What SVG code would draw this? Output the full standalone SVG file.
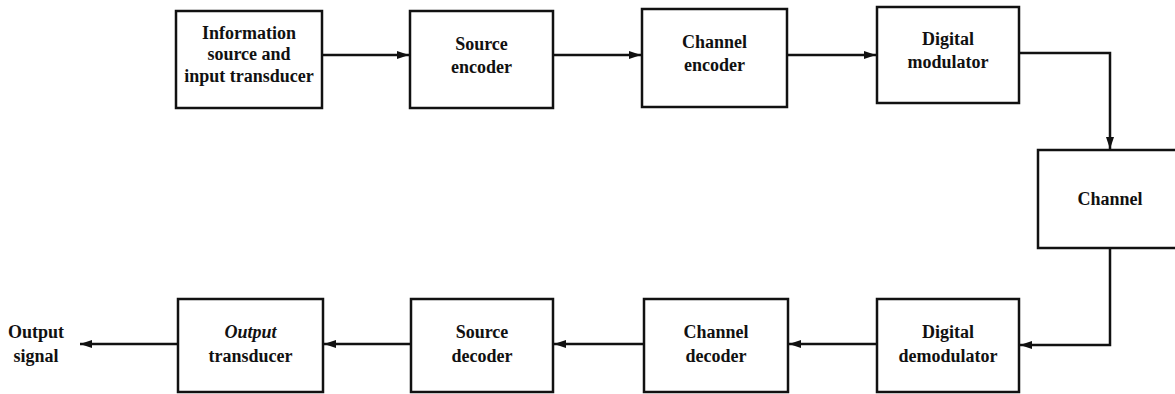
<svg xmlns="http://www.w3.org/2000/svg" width="1175" height="394" viewBox="0 0 1175 394">
<style>
.box{fill:#fff;stroke:#111;stroke-width:2.5}
.t{font-family:"Liberation Serif","Times New Roman",serif;font-size:18px;font-weight:bold;fill:#111;text-anchor:middle}
.i{font-style:italic}
.c{fill:none;stroke:#111;stroke-width:2.5}
</style>
<defs>
<marker id="ah" viewBox="0 0 12 8" refX="12" refY="4" markerWidth="12" markerHeight="8" markerUnits="userSpaceOnUse" orient="auto">
<path d="M0,0 L12,4 L0,8 Z" fill="#111"/>
</marker>
</defs>
<rect width="1175" height="394" fill="#fff"/>
<g id="connectors">
<path class="c" d="M322,55 H409" marker-end="url(#ah)"/>
<path class="c" d="M553,55 H641" marker-end="url(#ah)"/>
<path class="c" d="M787,55 H876" marker-end="url(#ah)"/>
<path class="c" d="M1019,53 H1110 V149" marker-end="url(#ah)"/>
<path class="c" d="M1110,248 V345 H1020" marker-end="url(#ah)"/>
<path class="c" d="M877,344 H789" marker-end="url(#ah)"/>
<path class="c" d="M644,344 H554" marker-end="url(#ah)"/>
<path class="c" d="M411,344 H324" marker-end="url(#ah)"/>
<path class="c" d="M178,344 H80" marker-end="url(#ah)"/>
</g>
<g id="info-source">
<rect class="box" x="176" y="11" width="146" height="97"/>
<text class="t" x="249" y="39">Information</text>
<text class="t" x="249" y="60">source and</text>
<text class="t" x="249" y="82">input transducer</text>
</g>
<g id="source-encoder">
<rect class="box" x="410" y="11" width="143" height="97"/>
<text class="t" x="481.5" y="50">Source</text>
<text class="t" x="481.5" y="73">encoder</text>
</g>
<g id="channel-encoder">
<rect class="box" x="642" y="9" width="145" height="98"/>
<text class="t" x="714.5" y="48">Channel</text>
<text class="t" x="714.5" y="71">encoder</text>
</g>
<g id="digital-modulator">
<rect class="box" x="877" y="7" width="142" height="96"/>
<text class="t" x="948" y="45">Digital</text>
<text class="t" x="948" y="68">modulator</text>
</g>
<g id="channel">
<rect class="box" x="1038" y="150" width="145" height="98"/>
<text class="t" x="1110" y="205">Channel</text>
</g>
<g id="digital-demodulator">
<rect class="box" x="877" y="299" width="142" height="93"/>
<text class="t" x="948" y="338">Digital</text>
<text class="t" x="948" y="362">demodulator</text>
</g>
<g id="channel-decoder">
<rect class="box" x="644" y="299" width="144" height="93"/>
<text class="t" x="716" y="338">Channel</text>
<text class="t" x="716" y="362">decoder</text>
</g>
<g id="source-decoder">
<rect class="box" x="411" y="299" width="142" height="93"/>
<text class="t" x="482" y="338">Source</text>
<text class="t" x="482" y="362">decoder</text>
</g>
<g id="output-transducer">
<rect class="box" x="178" y="299" width="145" height="93"/>
<text class="t i" x="250.5" y="338">Output</text>
<text class="t" x="250.5" y="362">transducer</text>
</g>
<g id="output-signal">
<text class="t" x="36" y="338">Output</text>
<text class="t" x="36" y="362">signal</text>
</g>
</svg>
